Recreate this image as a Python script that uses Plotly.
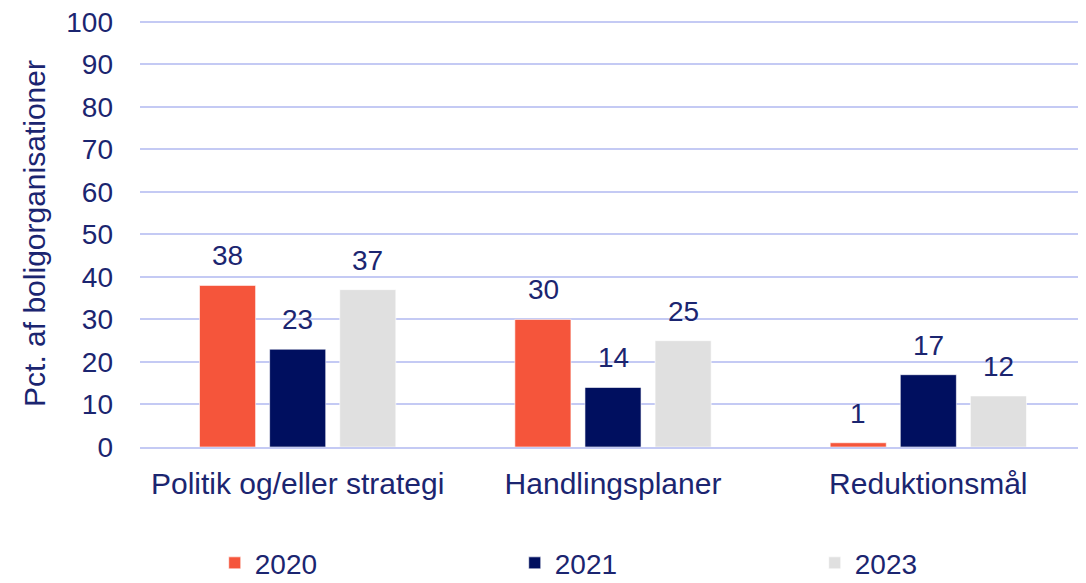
import plotly.graph_objects as go

categories = ["Politik og/eller strategi", "Handlingsplaner", "Reduktionsmål"]
series_names = ["2020", "2021", "2023"]
values_2020 = [38, 30, 1]
values_2021 = [23, 14, 17]
values_2023 = [37, 25, 12]
colors = ["#F5553B", "#000F5F", "#E0E0E0"]
y_ticks = [0, 10, 20, 30, 40, 50, 60, 70, 80, 90, 100]

TEXT = "#1B2570"
GRID = "#C4CAF4"
FONT = "Liberation Sans, Arial, sans-serif"

series = [values_2020, values_2021, values_2023]

fig = go.Figure()
for name, vals, col in zip(series_names, series, colors):
    fig.add_trace(go.Bar(
        x=categories, y=vals, name=name,
        marker=dict(color=col, line=dict(color="rgba(255,255,255,0.6)", width=1)),
        cliponaxis=False,
    ))

# value labels above the bars
slot = 70
for i, vals in enumerate(series):
    for cat, v in zip(categories, vals):
        fig.add_annotation(x=cat, y=v, text=str(v), showarrow=False,
                           xref="x", yref="y", yanchor="bottom",
                           xshift=(i - 1) * slot, yshift=12,
                           font=dict(size=28, color=TEXT, family=FONT))

fig.update_layout(
    width=1086, height=583,
    margin=dict(l=132, r=8, t=12, b=144, autoexpand=False),
    paper_bgcolor="white", plot_bgcolor="white",
    barmode="group", bargap=0.333, bargroupgap=0.2,
    font=dict(family=FONT, color=TEXT, size=22),
    showlegend=True,
    legend=dict(orientation="h", x=0.079, xanchor="left", y=-0.272, yanchor="middle",
                entrywidth=255, entrywidthmode="pixels",
                font=dict(size=28, color=TEXT, family=FONT)),
)
fig.update_yaxes(range=[0, 100.4], tickvals=y_ticks, showgrid=True, gridcolor=GRID, gridwidth=2,
                 zeroline=False, showline=False, ticks="", ticklabelstandoff=26, automargin=False,
                 ticklabeloverflow="allow",
                 tickfont=dict(size=28, color=TEXT),
                 title=dict(text="Pct. af boligorganisationer", font=dict(size=30, color=TEXT), standoff=11))
fig.update_xaxes(showline=True, linecolor=GRID, linewidth=2, ticks="", ticklabelstandoff=9,
                 automargin=False, tickfont=dict(size=30, color=TEXT))

fig.write_html("out.html")
